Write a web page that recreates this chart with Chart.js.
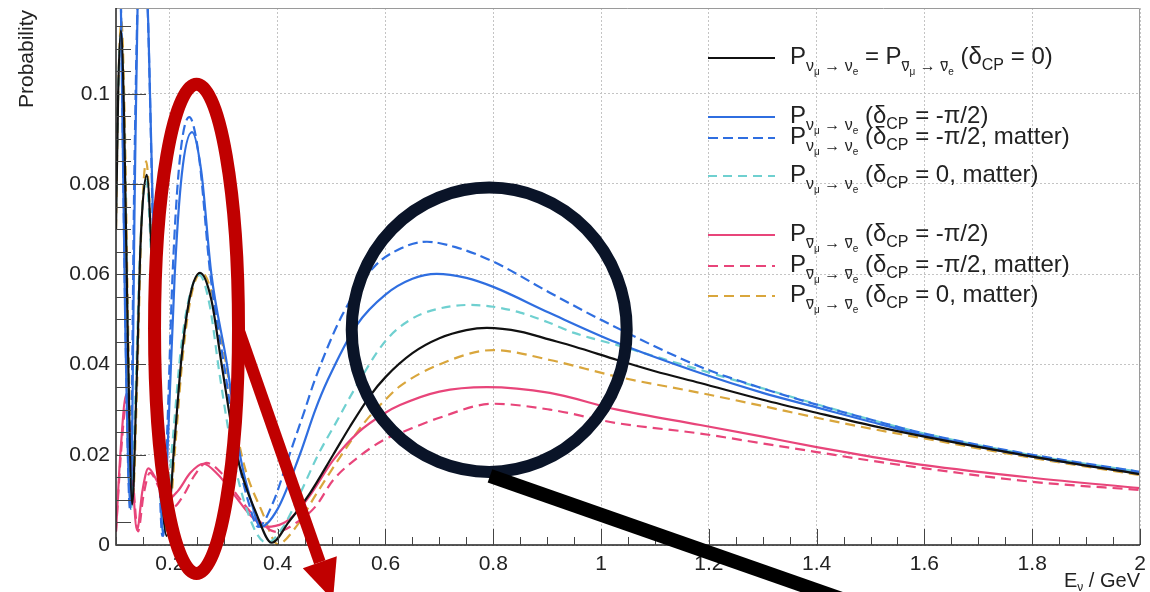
<!DOCTYPE html>
<html>
<head>
<meta charset="utf-8">
<script src="https://cdn.jsdelivr.net/npm/chart.js@4.4.1/dist/chart.umd.min.js"></script>
<style>
  html, body { margin: 0; padding: 0; background: #fff; }
  #wrap { width: 1150px; height: 592px; }
</style>
</head>
<body>
<div id="wrap"><canvas id="chart" width="1150" height="592"></canvas></div>
<script>
// Oscillation probabilities vs neutrino energy (GeV)

// delta_CP = 0, vacuum (same for nu and nubar)
const vac0E = [0.100, 0.104, 0.109, 0.115, 0.122, 0.130, 0.138, 0.146, 0.157, 0.167, 0.177, 0.194, 0.208, 0.222, 0.238, 0.256, 0.277, 0.296, 0.324, 0.361, 0.389, 0.420, 0.460, 0.503, 0.534, 0.571, 0.600, 0.650, 0.700, 0.750, 0.788, 0.850, 0.905, 0.950, 1.030, 1.100, 1.184, 1.300, 1.400, 1.500, 1.600, 1.800, 2.000];
const vac0P = [0.070, 0.100, 0.114, 0.095, 0.045, 0.009, 0.035, 0.068, 0.082, 0.062, 0.030, 0.002, 0.022, 0.042, 0.0555, 0.0603, 0.0543, 0.040, 0.020, 0.0068, 0.0005, 0.005, 0.0115, 0.020, 0.0262, 0.0330, 0.0372, 0.0425, 0.0458, 0.0476, 0.0481, 0.0473, 0.0455, 0.0440, 0.0410, 0.0385, 0.0359, 0.0322, 0.0293, 0.0265, 0.0240, 0.0196, 0.0157];

// nu, delta_CP = -pi/2, vacuum
const nuVacE = [0.100, 0.103, 0.109, 0.117, 0.127, 0.135, 0.140, 0.150, 0.160, 0.170, 0.179, 0.188, 0.197, 0.209, 0.222, 0.241, 0.258, 0.277, 0.306, 0.330, 0.350, 0.368, 0.400, 0.441, 0.470, 0.493, 0.547, 0.600, 0.650, 0.695, 0.750, 0.800, 0.905, 1.030, 1.184, 1.300, 1.400, 1.500, 1.600, 1.800, 2.000];
const nuVacP = [0.138, 0.142, 0.120, 0.050, 0.008, 0.080, 0.119, 0.138, 0.115, 0.065, 0.025, 0.002, 0.025, 0.060, 0.082, 0.0915, 0.083, 0.060, 0.040, 0.020, 0.010, 0.004, 0.008, 0.020, 0.030, 0.0366, 0.0488, 0.0555, 0.0590, 0.0601, 0.0592, 0.0572, 0.0514, 0.0448, 0.0381, 0.0337, 0.0305, 0.0273, 0.0243, 0.0196, 0.0158];

// nu, delta_CP = -pi/2, matter
const nuMatE = [0.100, 0.103, 0.109, 0.117, 0.126, 0.134, 0.140, 0.149, 0.159, 0.169, 0.178, 0.186, 0.195, 0.205, 0.218, 0.236, 0.254, 0.275, 0.303, 0.327, 0.347, 0.364, 0.390, 0.423, 0.450, 0.469, 0.520, 0.577, 0.630, 0.677, 0.730, 0.800, 0.905, 1.000, 1.184, 1.300, 1.400, 1.500, 1.600, 1.800, 2.000];
const nuMatP = [0.140, 0.145, 0.121, 0.052, 0.008, 0.082, 0.120, 0.142, 0.118, 0.068, 0.026, 0.002, 0.025, 0.060, 0.085, 0.0948, 0.086, 0.060, 0.038, 0.019, 0.009, 0.004, 0.009, 0.0204, 0.0298, 0.0366, 0.051, 0.0614, 0.0658, 0.0672, 0.0660, 0.0628, 0.0559, 0.0499, 0.0395, 0.0347, 0.0311, 0.0278, 0.0247, 0.0200, 0.0162];

// nu, delta_CP = 0, matter
const nuMat0E = [0.100, 0.104, 0.109, 0.115, 0.122, 0.128, 0.136, 0.145, 0.156, 0.166, 0.176, 0.188, 0.205, 0.220, 0.237, 0.255, 0.274, 0.292, 0.320, 0.355, 0.380, 0.410, 0.440, 0.475, 0.510, 0.540, 0.600, 0.650, 0.700, 0.757, 0.800, 0.850, 0.905, 0.950, 1.030, 1.100, 1.184, 1.300, 1.400, 1.500, 1.600, 1.800, 2.000];
const nuMat0P = [0.075, 0.100, 0.113, 0.093, 0.045, 0.008, 0.033, 0.066, 0.081, 0.062, 0.030, 0.0027, 0.023, 0.043, 0.0555, 0.0598, 0.053, 0.038, 0.018, 0.004, 0.0005, 0.004, 0.011, 0.020, 0.0275, 0.0340, 0.0452, 0.0502, 0.0524, 0.0532, 0.0528, 0.0515, 0.0492, 0.0470, 0.0443, 0.0418, 0.0388, 0.0347, 0.0312, 0.0278, 0.0247, 0.0199, 0.0162];

// nubar, delta_CP = -pi/2, vacuum
const nubarVacE = [0.100, 0.108, 0.119, 0.129, 0.139, 0.149, 0.160, 0.177, 0.195, 0.215, 0.238, 0.262, 0.290, 0.320, 0.350, 0.380, 0.410, 0.434, 0.460, 0.503, 0.550, 0.600, 0.627, 0.700, 0.788, 0.905, 1.030, 1.184, 1.300, 1.400, 1.500, 1.600, 1.800, 2.000];
const nubarVacP = [0.003, 0.020, 0.0333, 0.018, 0.0033, 0.012, 0.017, 0.014, 0.010, 0.012, 0.016, 0.018, 0.0155, 0.011, 0.0065, 0.004, 0.0048, 0.0071, 0.011, 0.0188, 0.025, 0.0293, 0.031, 0.034, 0.035, 0.0337, 0.030, 0.0266, 0.024, 0.0217, 0.0196, 0.0177, 0.0149, 0.0126];

// nubar, delta_CP = -pi/2, matter
const nubarMatE = [0.100, 0.109, 0.120, 0.130, 0.141, 0.151, 0.163, 0.183, 0.206, 0.225, 0.246, 0.268, 0.295, 0.325, 0.360, 0.398, 0.434, 0.470, 0.503, 0.550, 0.600, 0.627, 0.700, 0.800, 0.905, 1.030, 1.184, 1.300, 1.400, 1.500, 1.600, 1.800, 2.000];
const nubarMatP = [0.003, 0.020, 0.032, 0.017, 0.003, 0.011, 0.016, 0.012, 0.0084, 0.011, 0.0155, 0.0182, 0.016, 0.011, 0.006, 0.0029, 0.0049, 0.0085, 0.0144, 0.0195, 0.0235, 0.0248, 0.0282, 0.0313, 0.0300, 0.0270, 0.0247, 0.0225, 0.0206, 0.0187, 0.0170, 0.0140, 0.0122];

// nubar, delta_CP = 0, matter
const nubarMat0E = [0.100, 0.104, 0.110, 0.116, 0.123, 0.131, 0.139, 0.147, 0.156, 0.166, 0.176, 0.196, 0.210, 0.224, 0.240, 0.259, 0.280, 0.300, 0.333, 0.373, 0.400, 0.434, 0.470, 0.521, 0.560, 0.600, 0.627, 0.700, 0.800, 0.905, 1.030, 1.184, 1.300, 1.400, 1.500, 1.600, 1.800, 2.000];
const nubarMat0P = [0.070, 0.100, 0.116, 0.095, 0.045, 0.010, 0.035, 0.070, 0.085, 0.065, 0.032, 0.003, 0.022, 0.042, 0.0555, 0.0604, 0.055, 0.043, 0.020, 0.0068, 0.0002, 0.004, 0.011, 0.0204, 0.027, 0.0322, 0.0352, 0.0400, 0.0432, 0.0410, 0.0373, 0.0337, 0.0308, 0.0282, 0.0258, 0.0236, 0.0193, 0.0155];

// axis ticks
const xTicks = [0.2, 0.4, 0.6, 0.8, 1.0, 1.2, 1.4, 1.6, 1.8, 2.0];
const yTicks = [0, 0.02, 0.04, 0.06, 0.08, 0.1];

const X_MIN = 0.1, X_MAX = 2.0, Y_MIN = 0, Y_MAX = 0.119;

const BLACK = '#111111';
const BLUE = '#2f6ee0';
const CYAN = '#6fd0d0';
const PINK = '#e8457a';
const GOLD = '#d9a63c';

const FONT = '"Liberation Sans", Arial, Helvetica, sans-serif';
const TEXT = '#222222';

function pts(es, ps) {
    return es.map((e, i) => ({ x: e, y: ps[i] }));
}

function series(es, ps, color, dash) {
    return {
        data: pts(es, ps),
        borderColor: color,
        borderWidth: 2.2,
        borderDash: dash || [],
        pointRadius: 0,
        fill: false,
        cubicInterpolationMode: 'monotone'
    };
}

const datasets = [
    series(vac0E, vac0P, BLACK),
    series(nuVacE, nuVacP, BLUE),
    series(nuMatE, nuMatP, BLUE, [10, 5]),
    series(nuMat0E, nuMat0P, CYAN, [9, 6]),
    series(nubarVacE, nubarVacP, PINK),
    series(nubarMatE, nubarMatP, PINK, [10, 6]),
    series(nubarMat0E, nubarMat0P, GOLD, [10, 6])
];

// legend rows: rich text pieces [text, level, overbar]
// level 0 = normal, 1 = subscript, 2 = sub-subscript, 3 = CP subscript
function nuSub(bar) {
    return [['ν', 1, bar], ['μ', 2], [' → ', 1], ['ν', 1, bar], ['e', 2]];
}
const legendRows = [
    { y: 58, color: BLACK, dash: [], text: [['P', 0], ...nuSub(false), [' = P', 0], ...nuSub(true), [' (δ', 0], ['CP', 3], [' = 0)', 0]] },
    { y: 117, color: BLUE, dash: [], text: [['P', 0], ...nuSub(false), [' (δ', 0], ['CP', 3], [' = -π/2)', 0]] },
    { y: 138, color: BLUE, dash: [10, 5], text: [['P', 0], ...nuSub(false), [' (δ', 0], ['CP', 3], [' = -π/2, matter)', 0]] },
    { y: 176, color: CYAN, dash: [9, 6], text: [['P', 0], ...nuSub(false), [' (δ', 0], ['CP', 3], [' = 0, matter)', 0]] },
    { y: 235, color: PINK, dash: [], text: [['P', 0], ...nuSub(true), [' (δ', 0], ['CP', 3], [' = -π/2)', 0]] },
    { y: 266, color: PINK, dash: [10, 6], text: [['P', 0], ...nuSub(true), [' (δ', 0], ['CP', 3], [' = -π/2, matter)', 0]] },
    { y: 296, color: GOLD, dash: [10, 6], text: [['P', 0], ...nuSub(true), [' (δ', 0], ['CP', 3], [' = 0, matter)', 0]] }
];

const LEVELS = {
    0: { size: 24, dy: 0 },
    1: { size: 16, dy: 7 },
    2: { size: 10, dy: 11 },
    3: { size: 16, dy: 6 }
};

function drawRich(ctx, x, base, pieces) {
    ctx.textBaseline = 'alphabetic';
    ctx.textAlign = 'left';
    pieces.forEach(p => {
        const lv = LEVELS[p[1]];
        ctx.font = lv.size + 'px ' + FONT;
        const w = ctx.measureText(p[0]).width;
        ctx.fillText(p[0], x, base + lv.dy);
        if (p[2]) {
            const top = base + lv.dy - lv.size * 0.62;
            ctx.fillRect(x + 0.5, top, w - 1, 1.2);
        }
        x += w;
    });
    return x;
}

const frame = {
    id: 'frame',
    afterDatasetsDraw(chart) {
        const { ctx, chartArea: a, scales } = chart;
        const xs = scales.x, ys = scales.y;
        ctx.save();
        // top / right frame
        ctx.strokeStyle = '#9a9a9a';
        ctx.lineWidth = 1;
        ctx.beginPath();
        ctx.moveTo(a.left, a.top + 0.5);
        ctx.lineTo(a.right - 0.5, a.top + 0.5);
        ctx.lineTo(a.right - 0.5, a.bottom);
        ctx.stroke();
        // axes
        ctx.strokeStyle = '#222';
        ctx.lineWidth = 1.5;
        ctx.beginPath();
        ctx.moveTo(a.left, a.top);
        ctx.lineTo(a.left, a.bottom);
        ctx.lineTo(a.right, a.bottom);
        ctx.stroke();
        // inner ticks
        ctx.lineWidth = 1;
        ctx.strokeStyle = '#444';
        ctx.beginPath();
        for (let i = 0; i <= 38; i++) {
            const v = X_MIN + i * 0.05;
            if (v > X_MAX + 1e-9) break;
            const major = Math.abs(v / 0.2 - Math.round(v / 0.2)) < 1e-6;
            const px = Math.round(xs.getPixelForValue(v)) + 0.5;
            ctx.moveTo(px, a.bottom);
            ctx.lineTo(px, a.bottom - (major ? 16 : 8));
        }
        for (let i = 0; i <= 23; i++) {
            const v = i * 0.005;
            if (v > Y_MAX) break;
            const major = i % 4 === 0;
            const py = Math.round(ys.getPixelForValue(v)) + 0.5;
            ctx.moveTo(a.left, py);
            ctx.lineTo(a.left + (major ? 30 : 15), py);
        }
        ctx.stroke();
        ctx.restore();
    },
    afterDraw(chart) {
        const { ctx, chartArea: a } = chart;
        ctx.save();
        ctx.fillStyle = TEXT;

        // axis titles
        ctx.save();
        ctx.translate(33, 10);
        ctx.rotate(-Math.PI / 2);
        ctx.font = '21px ' + FONT;
        ctx.textAlign = 'right';
        ctx.textBaseline = 'alphabetic';
        ctx.fillText('Probability', 0, 0);
        ctx.restore();

        ctx.font = '20px ' + FONT;
        const rest = ' / GeV';
        const wRest = ctx.measureText(rest).width;
        const wE = ctx.measureText('E').width;
        ctx.font = '12px ' + FONT;
        const wNu = ctx.measureText('ν').width;
        let tx = a.right - wRest - wNu - wE;
        ctx.font = '20px ' + FONT;
        ctx.textAlign = 'left';
        ctx.fillText('E', tx, 587);
        ctx.font = '12px ' + FONT;
        ctx.fillText('ν', tx + wE, 591);
        ctx.font = '20px ' + FONT;
        ctx.fillText(rest, tx + wE + wNu, 587);

        // legend
        legendRows.forEach(r => {
            ctx.strokeStyle = r.color;
            ctx.lineWidth = 2;
            ctx.setLineDash(r.dash);
            ctx.beginPath();
            ctx.moveTo(708, r.y);
            ctx.lineTo(775, r.y);
            ctx.stroke();
            ctx.setLineDash([]);
            ctx.fillStyle = TEXT;
            drawRich(ctx, 790, r.y + 6, r.text);
        });
        ctx.restore();
    }
};

// highlight marks placed in data coordinates
const marks = {
    id: 'marks',
    afterDraw(chart) {
        const { ctx, scales } = chart;
        const X = v => scales.x.getPixelForValue(v);
        const Y = v => scales.y.getPixelForValue(v);
        ctx.save();
        ctx.lineCap = 'butt';

        // red ellipse around the second maximum
        ctx.strokeStyle = '#c00000';
        ctx.fillStyle = '#c00000';
        ctx.lineWidth = 13;
        const rcx = X(0.2494), rcy = Y(0.0479);
        ctx.beginPath();
        ctx.ellipse(rcx, rcy, X(0.2494 + 0.0779) - rcx, rcy - Y(0.0479 + 0.0542), 0, 0, Math.PI * 2);
        ctx.stroke();
        arrow(ctx, X(0.3263), Y(0.0481), X(0.5026), Y(-0.0122), 12, 40, 36);

        // dark circle around the first maximum
        ctx.strokeStyle = '#0a1428';
        ctx.lineWidth = 12;
        const bcx = X(0.7925), bcy = Y(0.0477);
        ctx.beginPath();
        ctx.ellipse(bcx, bcy, X(0.7925 + 0.2551) - bcx, bcy - Y(0.0477 + 0.0315), 0, 0, Math.PI * 2);
        ctx.stroke();
        ctx.strokeStyle = '#000';
        ctx.lineWidth = 14;
        ctx.beginPath();
        ctx.moveTo(X(0.7939), Y(0.0153));
        ctx.lineTo(X(1.452), Y(-0.0122));
        ctx.stroke();
        ctx.restore();
    }
};

function arrow(ctx, x0, y0, x1, y1, w, headLen, headW) {
    const ang = Math.atan2(y1 - y0, x1 - x0);
    const bx = x1 - Math.cos(ang) * headLen, by = y1 - Math.sin(ang) * headLen;
    ctx.lineWidth = w;
    ctx.beginPath();
    ctx.moveTo(x0, y0);
    ctx.lineTo(bx, by);
    ctx.stroke();
    const nx = -Math.sin(ang), ny = Math.cos(ang);
    ctx.beginPath();
    ctx.moveTo(x1, y1);
    ctx.lineTo(bx + nx * headW / 2, by + ny * headW / 2);
    ctx.lineTo(bx - nx * headW / 2, by - ny * headW / 2);
    ctx.closePath();
    ctx.fill();
}

new Chart(document.getElementById('chart').getContext('2d'), {
    type: 'line',
    data: { datasets },
    options: {
        responsive: false,
        animation: false,
        events: [],
        layout: { padding: { top: 8, right: 10, left: 0, bottom: 0 } },
        plugins: { legend: { display: false }, tooltip: { enabled: false } },
        scales: {
            x: {
                type: 'linear',
                min: X_MIN,
                max: X_MAX,
                afterBuildTicks: s => { s.ticks = xTicks.map(v => ({ value: v })); },
                afterFit: s => { s.height = 47; s.paddingLeft = 0; s.paddingRight = 0; },
                grid: { color: '#c4c4c4', lineWidth: 1, drawTicks: false },
                border: { display: false, dash: [2, 2] },
                ticks: {
                    padding: 7,
                    color: TEXT,
                    font: { family: FONT, size: 21 },
                    maxRotation: 0,
                    autoSkip: false,
                    callback: v => String(+v.toFixed(1))
                }
            },
            y: {
                type: 'linear',
                min: Y_MIN,
                max: Y_MAX,
                afterBuildTicks: s => { s.ticks = yTicks.map(v => ({ value: v })); },
                afterFit: s => { s.width = 116; s.paddingTop = 0; s.paddingBottom = 0; },
                grid: { color: '#c4c4c4', lineWidth: 1, drawTicks: false },
                border: { display: false, dash: [2, 2] },
                ticks: {
                    padding: 6,
                    color: TEXT,
                    font: { family: FONT, size: 21 },
                    autoSkip: false,
                    callback: v => String(+v.toFixed(2))
                }
            }
        }
    },
    plugins: [frame, marks]
});
</script>
</body>
</html>
